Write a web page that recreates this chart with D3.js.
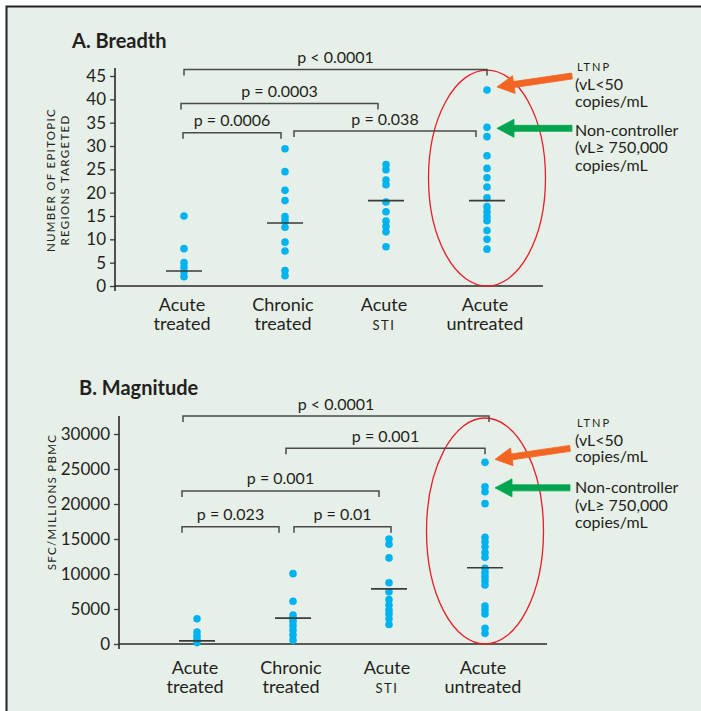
<!DOCTYPE html>
<html lang="en">
<head>
<meta charset="UTF-8">
<title>Breadth and Magnitude</title>
<script src="https://cdn.jsdelivr.net/npm/d3@7"></script>
<style>
  body { margin: 0; background: #fff; }
  svg text { font-family: Lato, "Open Sans", sans-serif; fill: #231f20; }
</style>
</head>
<body>
<script>
// groups, second word goes on the second line
const categories = ["Acute treated", "Chronic treated", "Acute STI", "Acute untreated"];

// A. Breadth - number of epitopic regions targeted
const breadthAcuteTreated = [15, 8, 5, 4, 3, 2];
const breadthChronicTreated = [29.4, 24.5, 20.5, 18.3, 14.9, 14, 12.6, 9.4, 7.5, 3.3, 2.2];
const breadthAcuteSTI = [26, 24.9, 22.7, 21.7, 18, 15.9, 13.9, 12.8, 11.6, 8.4];
const breadthAcuteUntreated = [42, 34, 32, 27.9, 25.2, 23.2, 21.2, 18.9, 17, 15.9, 14.9, 14, 11.9, 10, 7.9];
const breadthMedians = [3.2, 13.5, 18.3, 18.3];
const breadthTicks = [0, 5, 10, 15, 20, 25, 30, 35, 40, 45];
const breadthPairs = [[0, 3, "p < 0.0001"], [0, 2, "p = 0.0003"], [0, 1, "p = 0.0006"], [1, 3, "p = 0.038"]];

// B. Magnitude - SFC / million PBMC
const magAcuteTreated = [3600, 1700, 1150, 650, 200];
const magChronicTreated = [10050, 6100, 4150, 3650, 3200, 2650, 2000, 1300, 550];
const magAcuteSTI = [15000, 14250, 12300, 8750, 7450, 6350, 5570, 4860, 4300, 3600, 2780];
const magAcuteUntreated = [25950, 22450, 21750, 20050, 15250, 14600, 13900, 13050, 12380, 10810,
                           10190, 9620, 9050, 8430, 5430, 4860, 4290, 2240, 1520];
const magMedians = [450, 3700, 7880, 10900];
const magTicks = [0, 5000, 10000, 15000, 20000, 25000, 30000];
const magPairs = [[0, 3, "p < 0.0001"], [1, 3, "p = 0.001"], [0, 2, "p = 0.001"], [0, 1, "p = 0.023"], [1, 2, "p = 0.01"]];

const W = 701, H = 711;
const dotColor = "#00b3ef";
const ink = "#3b3b3b";

const svg = d3.select("body").append("svg")
    .attr("width", W)
    .attr("height", H);

// frame
svg.append("rect")
    .attr("x", 6.5).attr("y", 6.5)
    .attr("width", 760).attr("height", 760)
    .attr("fill", "#e7f0e8")
    .attr("stroke", "#231f20")
    .attr("stroke-width", 2);

const panels = [
  {
    title: "A. Breadth", titleX: 72, titleY: 48,
    groups: [breadthAcuteTreated, breadthChronicTreated, breadthAcuteSTI, breadthAcuteUntreated],
    medians: breadthMedians, ticks: breadthTicks, pairs: breadthPairs,
    yRange: [286, 76], yMax: 45, yTop: 46.7, xRange: [184, 487],
    axisX: 115, axisEnd: 543, catDy: 25,
    levels: [46.4, 39.1, 32.85, 33.2],
    offsets: [[0, 0], [-3, -8], [-1, -4], [9, -11]],
    yLabel: ["NUMBER OF EPITOPIC", "REGIONS TARGETED"], yLabelX: [55, 69], yLabelY: 180,
    notes: { ltnp: [71, 90, 107.3], nonc: [136, 153.4, 170.8] }
  },
  {
    title: "B. Magnitude", titleX: 79, titleY: 395,
    groups: [magAcuteTreated, magChronicTreated, magAcuteSTI, magAcuteUntreated],
    medians: magMedians, ticks: magTicks, pairs: magPairs,
    yRange: [644, 434], yMax: 30000, yTop: 32570, xRange: [197, 485],
    axisX: 119, axisEnd: 547, catDy: 30,
    levels: [32570, 27960, 21860, 16760, 16760],
    offsets: [[-14, 4], [-7, 0], [-15, -10], [-15, -14], [1, 2]],
    yLabel: ["SFC/MILLIONS PBMC"], yLabelX: [56], yLabelY: 502,
    notes: { ltnp: [426.7, 445.7, 462.3], nonc: [492.7, 511, 528.3] }
  }
];

panels.forEach(p => {
  const g = svg.append("g");
  const y = d3.scaleLinear().domain([0, p.yMax]).range(p.yRange);
  const x = d3.scalePoint().domain(categories).range(p.xRange);

  g.append("text")
      .attr("x", p.titleX).attr("y", p.titleY)
      .attr("font-size", 20).attr("font-weight", 700)
      .text(p.title);

  // y axis
  const ax = g.append("g")
      .attr("transform", "translate(" + p.axisX + ",0)")
      .call(d3.axisLeft(y).tickValues(p.ticks).tickSize(5).tickPadding(4).tickSizeOuter(0).tickFormat(d3.format("d")));
  ax.select(".domain").remove();
  ax.selectAll(".tick line").attr("stroke", ink).attr("stroke-width", 1.3);
  ax.selectAll(".tick text").attr("font-size", 17).attr("font-family", "Lato, sans-serif").attr("fill", "#231f20");

  g.append("line")
      .attr("x1", p.axisX).attr("x2", p.axisX)
      .attr("y1", y(p.yTop)).attr("y2", y(0) + 5)
      .attr("stroke", "#2a2a2a").attr("stroke-width", 1.6);
  g.append("line")
      .attr("x1", p.axisX).attr("x2", p.axisEnd)
      .attr("y1", y(0)).attr("y2", y(0))
      .attr("stroke", "#2a2a2a").attr("stroke-width", 1.6);

  // y axis title
  p.yLabel.forEach((t, i) => {
    g.append("text")
        .attr("transform", "translate(" + p.yLabelX[i] + "," + p.yLabelY + ") rotate(-90)")
        .attr("text-anchor", "middle")
        .attr("font-size", 11.5)
        .attr("letter-spacing", 1.3)
        .text(t);
  });

  // category labels
  categories.forEach(c => {
    const words = c.split(" ");
    g.append("text")
        .attr("x", x(c) - 2).attr("y", y(0) + p.catDy)
        .attr("text-anchor", "middle").attr("font-size", 18)
        .text(words[0]);
    const second = g.append("text")
        .attr("x", x(c) - 2).attr("y", y(0) + p.catDy + 18.5)
        .attr("text-anchor", "middle");
    if (words[1] === "STI") {
      second.attr("font-size", 13).attr("letter-spacing", 1.5).text(words[1]);
    } else {
      second.attr("font-size", 18).text(words[1]);
    }
  });

  // red ellipse round the untreated group
  const ex = x(categories[3]);
  const eTop = y(p.yTop) + 2, eBot = y(0);
  g.append("ellipse")
      .attr("cx", ex).attr("cy", (eTop + eBot) / 2)
      .attr("rx", 58.5).attr("ry", (eBot - eTop) / 2)
      .attr("fill", "none")
      .attr("stroke", "#e61e2a").attr("stroke-width", 1.3);

  // dots and medians
  p.groups.forEach((vals, i) => {
    const cx = x(categories[i]);
    g.selectAll(null)
      .data(vals)
      .enter()
      .append("circle")
        .attr("cx", cx)
        .attr("cy", d => y(d))
        .attr("r", 3.8)
        .attr("fill", dotColor);
    g.append("line")
        .attr("x1", cx - 18).attr("x2", cx + 18)
        .attr("y1", y(p.medians[i])).attr("y2", y(p.medians[i]))
        .attr("stroke", ink).attr("stroke-width", 1.6);
  });

  // p value brackets
  p.pairs.forEach((pr, i) => {
    const x1 = x(categories[pr[0]]) + p.offsets[i][0];
    const x2 = x(categories[pr[1]]) + p.offsets[i][1];
    const yy = y(p.levels[i]);
    g.append("path")
        .attr("d", "M" + x1 + "," + (yy + 6) + "V" + yy + "H" + x2 + "V" + (yy + 6))
        .attr("fill", "none")
        .attr("stroke", "#4a4a4a").attr("stroke-width", 1.5);
    g.append("text")
        .attr("x", (x1 + x2) / 2).attr("y", yy - 6.5)
        .attr("text-anchor", "middle").attr("font-size", 16)
        .text(pr[2]);
  });

  // arrows to LTNP and non-controller dots
  const top = p.groups[3];
  const tipX = ex + 10;
  arrow(g, [ex + 85, y(top[0]) - 14], [tipX, y(top[0]) - 3], "#f26522");
  arrow(g, [ex + 85, y(top[1]) + 1], [tipX, y(top[1]) + 1], "#00a54f");

  const nx = 576;
  const ltnp = ["LTNP", "(vL<50", "copies/mL"];
  const nonc = ["Non-controller", "(vL\u2265 750,000", "copies/mL"];
  ltnp.forEach((t, i) => {
    const tx = g.append("text").attr("x", i === 0 ? nx + 1 : nx - 1).attr("y", p.notes.ltnp[i]).text(t);
    if (i === 0) tx.attr("font-size", 11).attr("letter-spacing", 2);
    else tx.attr("font-size", 16);
  });
  nonc.forEach((t, i) => {
    g.append("text").attr("x", nx - 1).attr("y", p.notes.nonc[i]).attr("font-size", 16).text(t);
  });
});

function arrow(g, from, to, color) {
  const dx = to[0] - from[0], dy = to[1] - from[1];
  const len = Math.sqrt(dx * dx + dy * dy);
  const ux = dx / len, uy = dy / len;
  const nx = -uy, ny = ux;
  const headLen = 17, headW = 9, shaft = 3;
  const bx = to[0] - ux * headLen, by = to[1] - uy * headLen;
  const pts = [
    [from[0] + nx * shaft, from[1] + ny * shaft],
    [bx + nx * shaft, by + ny * shaft],
    [bx + nx * headW, by + ny * headW],
    to,
    [bx - nx * headW, by - ny * headW],
    [bx - nx * shaft, by - ny * shaft],
    [from[0] - nx * shaft, from[1] - ny * shaft]
  ];
  g.append("path")
      .attr("d", d3.line()(pts) + "Z")
      .attr("fill", color)
      .attr("stroke", color)
      .attr("stroke-linejoin", "round")
      .attr("stroke-width", 0.8);
}
</script>
</body>
</html>
